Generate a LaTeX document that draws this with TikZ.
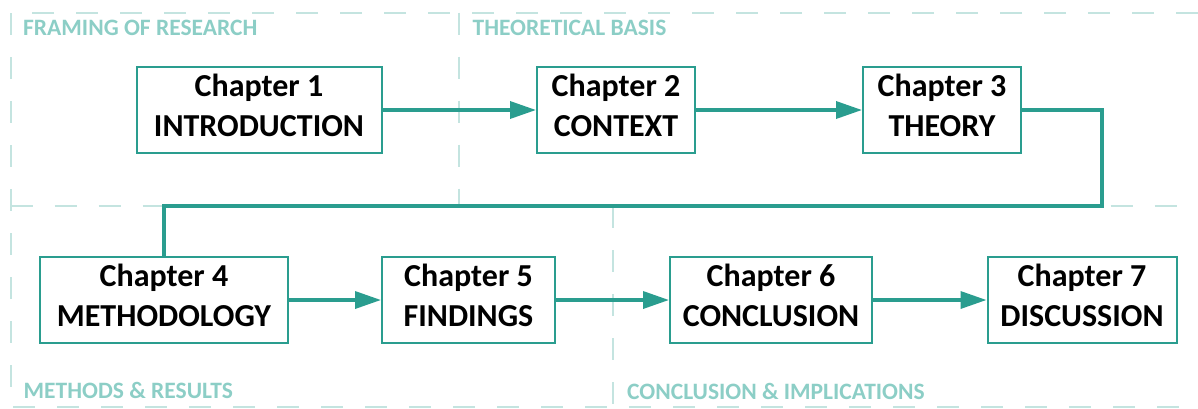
\documentclass[tikz,border=0pt]{standalone}
\usepackage{fontspec}
\setmainfont{Carlito}
\usetikzlibrary{arrows.meta}
\definecolor{chapline}{RGB}{42,157,143}
\definecolor{zonetext}{RGB}{140,206,198}
\definecolor{zoneline}{RGB}{196,228,224}

\begin{document}
\begin{tikzpicture}[x=1pt, y=-1pt,
  chapter/.style={draw=chapline, line width=2pt, fill=white, align=center,
    minimum height=86pt, inner sep=0pt, font=\fontsize{32}{40}\selectfont\bfseries,
    execute at end node={\rule[-10pt]{0pt}{0pt}}},
  flow/.style={draw=chapline, line width=3.5pt, -{Triangle[length=26pt,width=17pt]}},
  zone/.style={draw=zoneline, line width=2pt, dash pattern=on 22pt off 22pt},
  zonelabel/.style={text=zonetext, anchor=base west, inner sep=0pt,
    font=\fontsize{23.5}{28}\selectfont\bfseries}]
  \clip (0,0) rectangle (1198,408);
  % Zones
  \draw[zone] (1198,12.7) -- (10.7,12.7) -- (10.7,407) -- (1198,407);
  \draw[zone] (10.7,206) -- (1198,206);
  \draw[zone] (459,12.7) -- (459,206);
  \draw[zone] (612.6,206) -- (612.6,407);
  \node[zonelabel] (framing) at (23,35) {FRAMING OF RESEARCH};
  \node[zonelabel] (basis) at (472.5,35) {THEORETICAL BASIS};
  \node[zonelabel] (methods) at (23.5,398.5) {METHODS \& RESULTS};
  \node[zonelabel] (implications) at (627,399) {CONCLUSION \& IMPLICATIONS};
  % Chapters, top row
  \node[chapter, minimum width=245pt] (ch1) at (259,110) {Chapter 1\\INTRODUCTION};
  \node[chapter, minimum width=158pt] (ch2) at (616,110) {Chapter 2\\CONTEXT};
  \node[chapter, minimum width=158pt] (ch3) at (942,110) {Chapter 3\\THEORY};
  % Chapters, bottom row
  \node[chapter, minimum width=248pt] (ch4) at (164,300) {Chapter 4\\METHODOLOGY};
  \node[chapter, minimum width=173pt] (ch5) at (468.5,300) {Chapter 5\\FINDINGS};
  \node[chapter, minimum width=202pt] (ch6) at (771,300) {Chapter 6\\CONCLUSION};
  \node[chapter, minimum width=189pt] (ch7) at (1082,300) {Chapter 7\\DISCUSSION};
  % Flow
  \draw[flow] (ch1) -- (ch2);
  \draw[flow] (ch2) -- (ch3);
  \coordinate (turn) at (1102,206);
  \draw[chapline, line width=3.5pt] (ch3.east) -| (turn) -| (ch4.north);
  \draw[flow] (ch4) -- (ch5);
  \draw[flow] (ch5) -- (ch6);
  \draw[flow] (ch6) -- (ch7);
\end{tikzpicture}
\end{document}
